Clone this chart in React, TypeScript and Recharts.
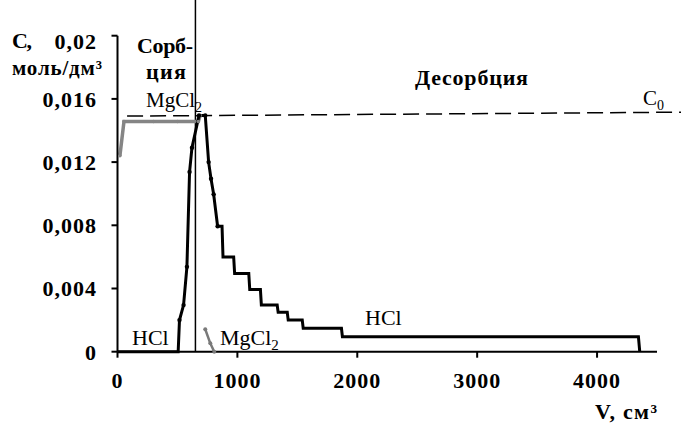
import React from 'react'
import { LineChart, Line, XAxis, YAxis, ReferenceLine } from 'recharts'

// V, см³ / C, моль/дм³
const xTicks = [0, 1000, 2000, 3000, 4000]
const yTicks = [0, 0.004, 0.008, 0.012, 0.016, 0.02]

// HCl (black) – sorption rise, peak, stepwise desorption
const hclV = [0, 506, 517, 551, 579, 601, 621, 680, 732, 760, 780, 802, 835, 872, 880, 969, 977, 1095, 1103, 1192, 1200, 1332, 1340, 1416, 1424, 1541, 1549, 1868, 1876, 4345, 4356]
const hclC = [0, 0, 0.002, 0.00295, 0.00537, 0.01137, 0.01291, 0.01495, 0.01495, 0.012, 0.01095, 0.00996, 0.00794, 0.00794, 0.006, 0.006, 0.00495, 0.00495, 0.00394, 0.00394, 0.00295, 0.00295, 0.00249, 0.00249, 0.002, 0.002, 0.00148, 0.00148, 0.00095, 0.00095, 0]
const hclDots = [517, 551, 579, 601, 621, 680, 732, 760, 780, 802, 835]

// MgCl2 (grey) – sorption plateau
const mgSorpV = [20, 54, 300, 500, 674, 690]
const mgSorpC = [0.0124, 0.01457, 0.01457, 0.01457, 0.01457, 0.01495]

// MgCl2 (grey) – desorption tail
const mgDesV = [732, 774, 807]
const mgDesC = [0.00142, 0.00053, 0]

const c0Line = [{ x: 80, y: 0.01491 }, { x: 4700, y: 0.01516 }]
const splitV = 650

const hclData = hclV.map((x, i) => ({ x, c: hclC[i] }))
const mgSorpData = mgSorpV.map((x, i) => ({ x, c: mgSorpC[i] }))
const mgDesData = mgDesV.map((x, i) => ({ x, c: mgDesC[i] }))

const serif = '"Liberation Serif", "Times New Roman", serif'
const boldText = { fontFamily: serif, fill: '#000', fontWeight: 'bold' as const }

const fmtY = (v: number) => (v === 0 ? '0' : String(v).replace('.', ','))

const XTick = (props: any) => {
  const { x, y, payload } = props
  return (
    <text x={x} y={y} dy="0.71em" textAnchor="middle" fontSize={22} letterSpacing={1} {...boldText}>
      {payload.value}
    </text>
  )
}

const YTick = (props: any) => {
  const { x, y, payload } = props
  // top label sits a bit below its tick in the original
  const shift = payload.value === 0.02 ? 5 : 0
  return (
    <text x={x} y={y + shift} dy="0.355em" textAnchor="end" fontSize={22} letterSpacing={1} {...boldText}>
      {fmtY(payload.value)}
    </text>
  )
}

const HclDot = (props: any) => {
  const { cx, cy, payload } = props
  if (!hclDots.includes(payload.x)) return <g key={props.key} />
  return <circle key={props.key} cx={cx} cy={cy} r={2.2} fill="#000" />
}

export default function App() {
  return (
    <div style={{ position: 'absolute', left: 0, top: 0, width: 685, height: 423, background: '#fff' }}>
      <LineChart width={685} height={423} margin={{ top: 35.7, right: 28, bottom: 31.3, left: 0 }}>
        <XAxis
          type="number"
          dataKey="x"
          domain={[0, 4500]}
          ticks={xTicks}
          allowDataOverflow
          height={40}
          stroke="#000"
          strokeWidth={2}
          tickSize={6}
          tickMargin={15}
          tick={<XTick />}
        />
        <YAxis
          type="number"
          domain={[0, 0.02]}
          ticks={yTicks}
          width={117.5}
          stroke="#000"
          strokeWidth={2}
          tickSize={6}
          tickMargin={14.5}
          tick={<YTick />}
        />
        <ReferenceLine
          segment={[{ x: splitV, y: 0 }, { x: splitV, y: 0.0225 }]}
          stroke="#000"
          strokeWidth={1.5}
          ifOverflow="visible"
        />
        <ReferenceLine
          segment={c0Line}
          stroke="#000"
          strokeWidth={1.5}
          strokeDasharray="16 7"
          ifOverflow="visible"
        />
        <Line
          data={mgSorpData}
          dataKey="c"
          type="linear"
          stroke="#858585"
          strokeWidth={3.5}
          dot={{ r: 1.8, fill: '#858585', stroke: 'none' }}
          isAnimationActive={false}
        />
        <Line
          data={mgDesData}
          dataKey="c"
          type="linear"
          stroke="#7a7a7a"
          strokeWidth={2.5}
          dot={{ r: 2, fill: '#7a7a7a', stroke: 'none' }}
          isAnimationActive={false}
        />
        <Line
          data={hclData}
          dataKey="c"
          type="linear"
          stroke="#000"
          strokeWidth={3}
          dot={HclDot}
          isAnimationActive={false}
        />
      </LineChart>
      <svg
        width={685}
        height={423}
        style={{ position: 'absolute', left: 0, top: 0, pointerEvents: 'none' }}
        fontFamily={serif}
      >
        <text x={12} y={48} fontSize={22} textLength={20} lengthAdjust="spacing" {...boldText}>С,</text>
        <text x={12} y={75} fontSize={21} textLength={90} lengthAdjust="spacing" {...boldText}>моль/дм³</text>
        <text x={137} y={53} fontSize={22} textLength={56} lengthAdjust="spacing" {...boldText}>Сорб-</text>
        <text x={146} y={79} fontSize={22} textLength={40} lengthAdjust="spacing" {...boldText}>ция</text>
        <text x={415} y={85} fontSize={22} textLength={113} lengthAdjust="spacing" {...boldText}>Десорбция</text>
        <text x={146} y={107} fontSize={21}>
          MgCl<tspan fontSize={14} dy={5}>2</tspan>
        </text>
        <text x={643} y={105} fontSize={21}>
          C<tspan fontSize={14} dy={5}>0</tspan>
        </text>
        <text x={132} y={345} fontSize={22}>HCl</text>
        <text x={220} y={345} fontSize={22}>
          MgCl<tspan fontSize={15} dy={5}>2</tspan>
        </text>
        <text x={365} y={325} fontSize={22}>HCl</text>
        <text x={595} y={419} fontSize={22} textLength={62} lengthAdjust="spacing" {...boldText}>V, см³</text>
      </svg>
    </div>
  )
}
